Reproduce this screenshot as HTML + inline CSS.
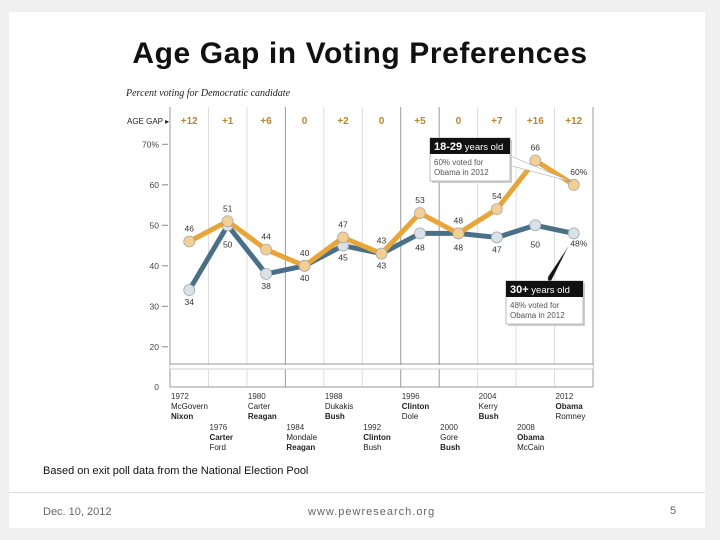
<!DOCTYPE html>
<html><head><meta charset="utf-8"><style>
body{margin:0;width:720px;height:540px;background:#f0f0f0;font-family:"Liberation Sans",sans-serif;overflow:hidden}
#card{position:absolute;left:9px;top:12px;width:696px;height:516px;background:#fff}
#title{position:absolute;left:0;top:37px;width:720px;text-align:center;font-size:30px;font-weight:bold;color:#111;letter-spacing:0.6px}
.t{position:absolute;font-size:11px;color:#666}
</style></head><body>
<div id="card"></div>
<div id="title">Age Gap in Voting Preferences</div>
<svg id="chart" width="720" height="540" style="position:absolute;left:0;top:0" font-family="Liberation Sans, sans-serif"></svg>
<div class="t" style="left:43px;top:465px;color:#111;font-size:11px">Based on exit poll data from the National Election Pool</div>
<div style="position:absolute;left:9px;top:492px;width:696px;height:1px;background:#ddd"></div>
<div class="t" style="left:43px;top:506px">Dec. 10, 2012</div>
<div class="t" style="left:308px;top:506px;letter-spacing:1px">www.pewresearch.org</div>
<div class="t" style="left:670px;top:505px">5</div>
<script>
const years=["1972","1976","1980","1984","1988","1992","1996","2000","2004","2008","2012"];
const dem=["McGovern","Carter","Carter","Mondale","Dukakis","Clinton","Clinton","Gore","Kerry","Obama","Obama"];
const rep=["Nixon","Ford","Reagan","Reagan","Bush","Bush","Dole","Bush","Bush","McCain","Romney"];
const winnerDem=[false,true,false,false,false,true,true,false,false,true,true];
const young=[46,51,44,40,47,43,53,48,54,66,60];
const old=[34,50,38,40,45,43,48,48,47,50,48];
const gaps=["+12","+1","+6","0","+2","0","+5","0","+7","+16","+12"];
const yTicks=[20,30,40,50,60,70];
const NS="http://www.w3.org/2000/svg";
const svg=document.getElementById('chart');
const L=170,R=593,cw=(R-L)/years.length;
const x=i=>L+cw*(i+0.5);
const y=v=>144.3+(70-v)*4.05;
function mk(t,a,p){const e=document.createElementNS(NS,t);for(const k in a)e.setAttribute(k,a[k]);(p||svg).appendChild(e);return e;}
function tx(s,a){const e=mk('text',a);e.textContent=s;return e;}
let e=tx("Percent voting for Democratic candidate",{x:126,y:96,'font-size':10,'font-style':'italic','font-family':'Liberation Serif, serif',fill:'#222'});

e=tx("AGE GAP \u25B8",{x:127,y:124,'font-size':8,fill:'#222'});

for(let i=0;i<=years.length;i++){
  const xx=L+cw*i;const dark=(i===3||i===6||i===7||i===0||i===11);
  e=mk('line',{x1:xx,x2:xx,y1:107,y2:387,stroke:dark?'#999':'#ddd','stroke-width':1});
  
}
e=mk('line',{x1:L,x2:R,y1:364,y2:364,stroke:'#999'});
e=mk('rect',{x:L,y:365,width:R-L,height:4,fill:'#fff'});
e=mk('line',{x1:L,x2:R,y1:369,y2:369,stroke:'#ccc'});
e=mk('line',{x1:L,x2:R,y1:387,y2:387,stroke:'#999'});
yTicks.forEach(v=>{e=tx(v+(v===70?'%':''),{x:159,y:y(v)+3,'font-size':8.5,fill:'#444','text-anchor':'end'});

mk('line',{x1:162,x2:168,y1:y(v),y2:y(v),stroke:'#888'});});
e=tx("0",{x:159,y:390,'font-size':8.5,fill:'#444','text-anchor':'end'});
gaps.forEach((g,i)=>{e=tx(g,{x:x(i),y:124,'font-size':10,'font-weight':'bold',fill:'#b8862e','text-anchor':'middle'});
});
function callout(bx,by,w,head,sub,l1,l2,px,py,ax,ay,name,tipFill){
  const g=mk('g',{});
  mk('polygon',{points:`${ax},${ay-5} ${ax},${ay+5} ${px},${py}`,fill:tipFill,stroke:'#999','stroke-width':0.5},g);
  mk('rect',{x:bx+2,y:by+2,width:w,height:43,fill:'#ccc'},g);
  mk('rect',{x:bx,y:by,width:w,height:43,fill:'#fff',stroke:'#bbb'},g);
  mk('rect',{x:bx,y:by,width:w,height:16,fill:'#111'},g);
  const t=mk('text',{x:bx+4,y:by+12,'font-size':9.5,fill:'#fff'},g);
  const b=mk('tspan',{'font-weight':'bold','font-size':11},t);b.textContent=head;
  const s=mk('tspan',{},t);s.textContent=' '+sub;
  mk('text',{x:bx+4,y:by+27,'font-size':8,fill:'#555'},g).textContent=l1;
  mk('text',{x:bx+4,y:by+37,'font-size':8,fill:'#555'},g).textContent=l2;
}
function series(d,col,fill,name){
  e=mk('polyline',{points:d.map((v,i)=>x(i)+','+y(v)).join(' '),fill:'none',stroke:col,'stroke-width':5,'stroke-linejoin':'round'});
  
  d.forEach((v,i)=>{e=mk('circle',{cx:x(i),cy:y(v),r:5.5,fill:fill,stroke:'#aaa','stroke-width':0.8});
  });
}
series(old,'#4a7088','#d8e2ea','age-30plus');
series(young,'#e8a53a','#f4cf94','age-18-29');
callout(430,138,80,'18-29','years old','60% voted for','Obama in 2012',x(10)-2,y(60)-3,508,160,'young-callout','#fff');
callout(506,281,77,'30+','years old','48% voted for','Obama in 2012',x(10)-6,y(48)+14,548,282,'old-callout','#111');
young.forEach((v,i)=>{e=tx(v+(i===10?'%':''),{x:x(i)+(i===10?5:0),y:y(v)-10,'font-size':8.5,fill:'#333','text-anchor':'middle'});
});
const oldOff=[15,22,15,15,15,15,17,17,15,22,13];
old.forEach((v,i)=>{
e=tx(v+(i===10?'%':''),{x:x(i)+(i===10?5:0),y:y(v)+oldOff[i],'font-size':8.5,fill:'#333','text-anchor':'middle'});
});
years.forEach((yr,i)=>{
  const bx=L+cw*i+1, top=i%2===0?399:430;
  e=tx(yr,{x:bx,y:top,'font-size':8,fill:'#333'});
  e=tx(dem[i],{x:bx,y:top+10,'font-size':8,fill:'#222','font-weight':winnerDem[i]?'bold':'normal'});
  e=tx(rep[i],{x:bx,y:top+20,'font-size':8,fill:'#222','font-weight':winnerDem[i]?'normal':'bold'});
});
</script>
</body></html>
